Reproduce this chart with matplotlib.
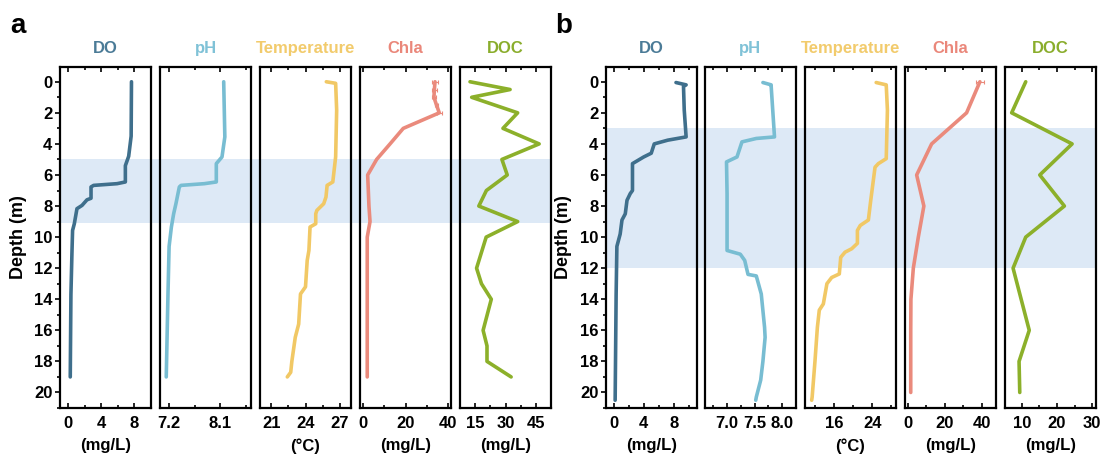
import matplotlib
matplotlib.use("Agg")
import matplotlib.pyplot as plt
from matplotlib.patches import Rectangle
from matplotlib.transforms import blended_transform_factory
from matplotlib.ticker import AutoMinorLocator

plt.rcParams['font.family'] = ['Liberation Sans', 'DejaVu Sans']
plt.rcParams['font.weight'] = 'bold'

# ---------------- data: panel a ----------------
do_a_depth = [0, 3.5, 4.8, 5.4, 6.45, 6.56, 6.67, 6.77, 7.5, 7.6, 7.96, 8.17, 9.14, 9.57, 11.1, 13.7, 19.0]
do_a = [7.64, 7.6, 7.3, 6.9, 6.9, 5.9, 3.07, 2.75, 2.75, 2.26, 1.66, 1.05, 0.73, 0.52, 0.44, 0.32, 0.24]

ph_a_depth = [0, 3.55, 4.84, 5.27, 6.45, 6.56, 6.67, 6.77, 7.85, 8.5, 9.35, 10.6, 13.7, 19.0]
ph_a = [8.16, 8.18, 8.13, 8.03, 8.03, 7.82, 7.41, 7.38, 7.32, 7.28, 7.24, 7.20, 7.18, 7.15]

temp_a_depth = [0, 0.1, 1.83, 4.84, 6.45, 6.67, 7.42, 7.85, 8.28, 8.5, 9.14, 9.35, 10.86, 11.5,
                13.2, 13.66, 15.6, 16.45, 18.0, 18.7, 19.0]
temp_a = [25.83, 26.65, 26.74, 26.65, 26.4, 25.9, 25.8, 25.6, 25.0, 24.9, 24.9, 24.4, 24.3, 24.15,
          24.0, 23.56, 23.4, 23.1, 22.8, 22.7, 22.4]

chla_a_depth = [0, 0.5, 1, 1.5, 2, 3, 4, 5, 6, 7, 8, 9, 10, 11, 12, 13, 14, 15, 16, 17, 18, 19]
chla_a = [33.8, 33.5, 33.3, 34.5, 35.8, 18.9, 12.7, 6.4, 2.2, 2.5, 2.8, 3.3, 2.0, 2.0, 2.0, 2.0,
          2.0, 2.0, 2.0, 2.0, 2.0, 2.0]
chla_a_err = [1.5, 1.2, 1.0, 0.6, 1.2, 0, 0, 0, 0, 0, 0, 0, 0, 0, 0, 0, 0, 0, 0, 0, 0, 0]

doc_a_depth = [0, 0.5, 1, 2, 3, 4, 5, 6, 7, 8, 9, 10, 12, 13, 14, 16, 17, 18, 19]
doc_a = [12.6, 32.2, 13.4, 35.9, 28.7, 46.4, 28.2, 30.8, 20.6, 16.9, 35.9, 20.5, 15.8, 18.2, 23.0,
         19.0, 20.9, 20.9, 32.7]

# ---------------- data: panel b ----------------
do_b_depth = [0.05, 0.2, 0.3, 1.83, 3.55, 3.76, 4.0, 4.6, 4.84, 5.27, 7.0, 7.2, 7.63, 8.5, 8.9,
              9.8, 10.6, 13.7, 20.5]
do_b = [8.3, 9.65, 9.3, 9.4, 9.65, 7.2, 5.4, 5.0, 4.0, 2.5, 2.5, 2.2, 1.77, 1.54, 1.1, 0.86,
        0.42, 0.32, 0.19]

ph_b_depth = [0.05, 0.2, 0.3, 3.55, 3.65, 3.87, 4.84, 5.16, 7.2, 10.86, 11.1, 11.5, 12.4, 12.5,
              13.66, 15.8, 16.45, 18.0, 19.2, 20.3, 20.5]
ph_b = [7.65, 7.8, 7.8, 7.86, 7.53, 7.27, 7.18, 6.99, 7.0, 7.0, 7.24, 7.32, 7.38, 7.53, 7.62,
        7.68, 7.69, 7.65, 7.61, 7.53, 7.52]

temp_b_depth = [0.05, 0.2, 1.83, 4.95, 5.27, 5.5, 7.63, 8.9, 9.25, 9.57, 10.4, 10.75, 10.97, 11.3,
                12.37, 12.6, 13.0, 14.3, 14.7, 15.8, 17.96, 20.3, 20.5]
temp_b = [24.84, 26.95, 27.2, 26.95, 25.3, 24.6, 23.7, 23.2, 21.5, 20.9, 20.9, 19.7, 18.3, 17.4,
          17.1, 15.5, 14.5, 13.75, 12.9, 12.5, 12.0, 11.4, 11.3]

chla_b_depth = [0, 2, 4, 6, 8, 10, 12, 14, 16, 18, 20]
chla_b = [38.9, 31.7, 12.8, 4.7, 8.6, 5.6, 2.9, 1.6, 1.5, 1.5, 1.5]
chla_b_err = [2.0, 0, 0, 0, 0, 0, 0, 0, 0, 0, 0]

doc_b_depth = [0, 2, 4, 6, 8, 10, 12, 16, 18, 20]
doc_b = [11.1, 7.1, 24.3, 15.1, 22.1, 11.1, 7.5, 12.1, 9.2, 9.4]

# ---------------- labels / axes ----------------
var_names = ["DO", "pH", "Temperature", "Chla", "DOC"]
units = ["(mg/L)", "", "(°C)", "(mg/L)", "(mg/L)"]
depth_ticks = [0, 2, 4, 6, 8, 10, 12, 14, 16, 18, 20]

ticks_a = [[0, 4, 8], [7.2, 8.1], [21, 24, 27], [0, 20, 40], [15, 30, 45]]
ticklabels_a = [["0", "4", "8"], ["7.2", "8.1"], ["21", "24", "27"], ["0", "20", "40"], ["15", "30", "45"]]
ticks_b = [[0, 4, 8], [7.0, 7.5, 8.0], [16, 24], [0, 20, 40], [10, 20, 30]]
ticklabels_b = [["0", "4", "8"], ["7.0", "7.5", "8.0"], ["16", "24"], ["0", "20", "40"], ["10", "20", "30"]]

band_a = (5.0, 9.1)
band_b = (3.0, 12.0)

# ---------------- style ----------------
line_colors = ["#3f6f8c", "#78bdd2", "#f1c865", "#ea8a7c", "#8cb02a"]
title_colors = ["#4b7b97", "#80c2d7", "#f2cb6c", "#ea877a", "#8aad2c"]
band_color = "#dde9f6"

W, H = 1104, 463
fig = plt.figure(figsize=(W / 100, H / 100), dpi=100)

ax_bottom = 1 - 408 / H
ax_height = (408 - 67) / H
ax_w = 91 / W
starts_a = [60, 160, 260, 360, 460]
starts_b = [606, 705, 805, 905, 1005]
xlims_a = [(-1.0, 10.0), (7.04, 8.64), (20.0, 28.0), (-1.4, 41.3), (7.7, 52.2)]
xlims_b = [(-1.03, 11.1), (6.6, 8.25), (9.9, 29.0), (-1.6, 47.6), (5.2, 31.1)]
ylim = (21.0, -0.95)


def make_panel(starts, xlims, ticks, ticklabels, series, errs, band, ylabel_x, letter, letter_x):
    axes = []
    for i, x0 in enumerate(starts):
        ax = fig.add_axes([x0 / W, ax_bottom, ax_w, ax_height])
        ax.set_facecolor("none")
        depth, vals = series[i]
        ax.plot(vals, depth, color=line_colors[i], lw=2.6, solid_joinstyle="round",
                solid_capstyle="round", zorder=3)
        if errs[i] is not None:
            d_e, v_e, e = errs[i]
            dd = [d for d, ee in zip(d_e, e) if ee > 0]
            vv = [v for v, ee in zip(v_e, e) if ee > 0]
            ex = [ee for ee in e if ee > 0]
            ax.errorbar(vv, dd, xerr=ex, fmt="none", ecolor=line_colors[i], elinewidth=0.8,
                        capsize=1.5, capthick=0.8, zorder=2)
        ax.set_xlim(*xlims[i])
        ax.set_ylim(*ylim)
        ax.set_xticks(ticks[i])
        ax.set_xticklabels(ticklabels[i], fontsize=12, fontweight="bold")
        ax.xaxis.set_minor_locator(AutoMinorLocator(2))
        ax.tick_params(axis="x", which="both", direction="in", top=True, bottom=True,
                       pad=6, width=1.2)
        ax.tick_params(axis="x", which="major", length=3.5)
        ax.tick_params(axis="x", which="minor", length=2.5)
        for s in ax.spines.values():
            s.set_linewidth(1.6)
        ax.set_title(var_names[i], color=title_colors[i], fontsize=12, fontweight="bold", pad=10)
        if units[i]:
            ax.set_xlabel(units[i], fontsize=12, fontweight="bold", labelpad=5)
        if i == 0:
            ax.set_yticks(depth_ticks)
            ax.set_yticklabels([str(t) for t in depth_ticks], fontsize=12, fontweight="bold")
            ax.yaxis.set_minor_locator(AutoMinorLocator(2))
            ax.tick_params(axis="y", which="both", direction="out", left=True, right=False,
                           pad=2, width=1.2)
            ax.tick_params(axis="y", which="major", length=3.5)
            ax.tick_params(axis="y", which="minor", length=2)
        else:
            ax.set_yticks([])
        axes.append(ax)

    first = axes[0]
    first.set_ylabel("Depth (m)", fontsize=13, fontweight="bold")
    first.yaxis.set_label_coords((ylabel_x - starts[0]) / 91, 0.5)

    trans = blended_transform_factory(fig.transFigure, first.transData)
    x_left = starts[0] / W
    x_right = (starts[-1] + 91) / W
    rect = Rectangle((x_left, band[0]), x_right - x_left, band[1] - band[0], transform=trans,
                     facecolor=band_color, edgecolor="none", zorder=-1)
    fig.add_artist(rect)

    fig.text(letter_x / W, 1 - 26 / H, letter, fontsize=20, fontweight="bold",
             ha="center", va="center")
    return axes


series_a = [(do_a_depth, do_a), (ph_a_depth, ph_a), (temp_a_depth, temp_a),
            (chla_a_depth, chla_a), (doc_a_depth, doc_a)]
errs_a = [None, None, None, (chla_a_depth, chla_a, chla_a_err), None]
series_b = [(do_b_depth, do_b), (ph_b_depth, ph_b), (temp_b_depth, temp_b),
            (chla_b_depth, chla_b), (doc_b_depth, doc_b)]
errs_b = [None, None, None, (chla_b_depth, chla_b, chla_b_err), None]

make_panel(starts_a, xlims_a, ticks_a, ticklabels_a, series_a, errs_a, band_a, 27, "a", 18)
make_panel(starts_b, xlims_b, ticks_b, ticklabels_b, series_b, errs_b, band_b, 572, "b", 564)

fig.savefig("out.png", dpi=100)
